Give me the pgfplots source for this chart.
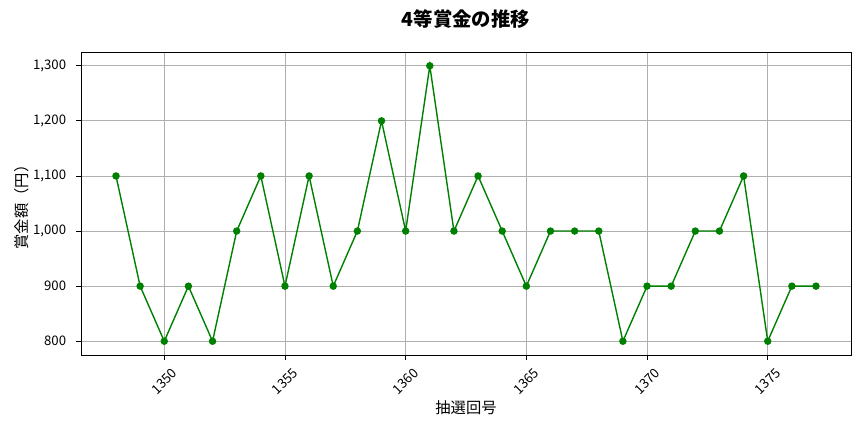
\documentclass[border=0pt]{standalone}
\usepackage{pgfplots}
\pgfplotsset{compat=1.18}
\usepackage{fontspec}
\setmainfont{Noto Sans CJK JP}
\definecolor{mplgreen}{HTML}{008000}
\definecolor{gridgray}{HTML}{B0B0B0}
\begin{document}
\begin{tikzpicture}
  \useasboundingbox (-81bp,-77bp) rectangle (783bp,355bp);
  \begin{axis}[
      at={(0,0)}, anchor=south west,
      scale only axis,
      width=770bp, height=303bp,
      xmin=1346.55, xmax=1378.45,
      ymin=775, ymax=1325,
      xtick={1350,1355,...,1375},
      ytick={800,900,...,1300},
      xtick pos=left, ytick pos=left,
      tick align=outside,
      major tick length=4.9bp,
      tick style={black, line width=0.8bp},
      axis line style={black, line width=0.8bp},
      grid=major,
      grid style={gridgray, line width=0.8bp},
      /pgf/number format/assume math mode=true,
      /pgf/number format/1000 sep={,},
      x tick label style={/pgf/number format/1000 sep={}},
      tick label style={font=\fontsize{13.2bp}{15bp}\selectfont},
      xticklabel style={yshift=-21.5bp, rotate=45, anchor=center},
      yticklabel style={inner sep=0pt, xshift=-9.8bp},
      title={\bfseries 4等賞金の推移},
      title style={at={(axis description cs:0.5,1.089)}, anchor=center,
        font=\fontsize{19.4bp}{22bp}\selectfont},
      xlabel={抽選回号},
      xlabel style={at={(axis description cs:0.5,-0.175)}, anchor=center,
        font=\fontsize{15.3bp}{18bp}\selectfont},
      ylabel={賞金額（円）},
      ylabel style={at={(axis description cs:-0.0773,0.5)}, anchor=center,
        font=\fontsize{15.3bp}{18bp}\selectfont},
    ]
    \addplot[mplgreen, line width=1.4bp, mark=*, mark size=3bp,
      mark options={solid, fill=mplgreen, draw=mplgreen}] coordinates {
      (1348,1100) (1349,900) (1350,800) (1351,900) (1352,800)
      (1353,1000) (1354,1100) (1355,900) (1356,1100) (1357,900)
      (1358,1000) (1359,1200) (1360,1000) (1361,1300) (1362,1000)
      (1363,1100) (1364,1000) (1365,900) (1366,1000) (1367,1000)
      (1368,1000) (1369,800) (1370,900) (1371,900) (1372,1000)
      (1373,1000) (1374,1100) (1375,800) (1376,900) (1377,900)
    };
  \end{axis}
\end{tikzpicture}
\end{document}
